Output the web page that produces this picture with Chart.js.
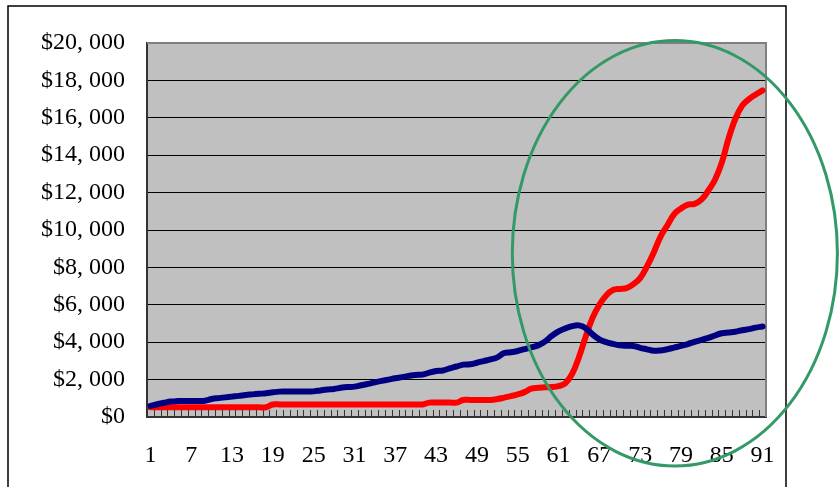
<!DOCTYPE html>
<html lang="en">
<head>
<meta charset="UTF-8">
<title>Chart</title>
<script src="https://cdn.jsdelivr.net/npm/chart.js"></script>
<style>
  html, body { margin: 0; padding: 0; background: #fff; }
  #wrap { width: 839px; height: 487px; }
</style>
</head>
<body>
<div id="wrap"><canvas id="chart" width="839" height="487"></canvas></div>
<script>
  // data
  const periods = Array.from({ length: 91 }, (_, i) => String(i + 1));

  const blueSeries = [
    590, 680, 760, 830, 850, 850, 855, 860, 870, 960,
    1010, 1050, 1090, 1130, 1180, 1210, 1240, 1270, 1320, 1357,
    1360, 1360, 1360, 1365, 1370, 1420, 1470, 1500, 1560, 1600,
    1625, 1700, 1770, 1860, 1930, 2000, 2070, 2130, 2200, 2250,
    2267, 2370, 2460, 2490, 2600, 2700, 2800, 2820, 2900, 2990,
    3080, 3190, 3420, 3460, 3530, 3630, 3720, 3830, 4030, 4340,
    4580, 4740, 4860, 4900, 4750, 4420, 4150, 4000, 3910, 3840,
    3810, 3800, 3700, 3620, 3540, 3560, 3620, 3710, 3800, 3900,
    4020, 4120, 4230, 4360, 4480, 4520, 4560, 4640, 4700, 4780,
    4840
  ];

  const redSeries = [
    520, 520, 520, 520, 520, 520, 520, 520, 520, 520,
    520, 520, 520, 520, 520, 520, 520, 520, 670, 670,
    670, 670, 670, 670, 670, 670, 670, 670, 670, 670,
    670, 670, 670, 670, 670, 670, 670, 670, 670, 670,
    670, 770, 770, 770, 770, 770, 910, 910, 910, 910,
    910, 960, 1035, 1120, 1214, 1330, 1520, 1560, 1590, 1600,
    1650, 1800, 2300, 3200, 4300, 5300, 6000, 6500, 6790, 6850,
    6890, 7100, 7430, 8050, 8800, 9650, 10250, 10850, 11150, 11360,
    11400, 11620, 12100, 12690, 13600, 14900, 15950, 16650, 17000, 17250,
    17470
  ];

  const yTicks = [0, 2000, 4000, 6000, 8000, 10000, 12000, 14000, 16000, 18000, 20000];
  const labelEvery = 6;

  // highlight ellipse, in axis units (category index / dollars)
  const ringLeftIdx = 53.2, ringRightIdx = 101.0;
  const ringTopVal = 20130, ringBottomVal = -2620;

  const serif = '"Liberation Serif", "DejaVu Serif", serif';

  function fmtDollar(v) {
    if (v === 0) return '$0';
    const s = String(v);
    return '$' + s.slice(0, s.length - 3) + ', ' + s.slice(-3);
  }

  const frame = {
    id: 'frame',
    beforeDraw(chart) {
      const { ctx, chartArea: a } = chart;
      ctx.save();
      ctx.fillStyle = '#fff';
      ctx.fillRect(0, 0, chart.width, chart.height);
      ctx.strokeStyle = '#000';
      ctx.lineWidth = 1.5;
      ctx.beginPath();
      ctx.moveTo(8, 500);
      ctx.lineTo(8, 6);
      ctx.lineTo(786, 6);
      ctx.lineTo(786, 500);
      ctx.stroke();
      ctx.fillStyle = '#c0c0c0';
      ctx.fillRect(a.left, a.top, a.right - a.left, a.bottom - a.top);
      ctx.restore();
    },
    beforeDatasetsDraw(chart) {
      // little inside tick marks on the category axis
      const { ctx, chartArea: a, scales: { x } } = chart;
      const half = (x.getPixelForValue(1) - x.getPixelForValue(0)) / 2;
      ctx.save();
      ctx.strokeStyle = '#333';
      ctx.lineWidth = 1;
      ctx.beginPath();
      for (let i = 0; i <= periods.length; i++) {
        const px = Math.round(x.getPixelForValue(i) - half) + 0.5;
        ctx.moveTo(px, a.bottom);
        ctx.lineTo(px, a.bottom - 7);
      }
      ctx.stroke();
      // gray top and right edges of the plot
      ctx.strokeStyle = '#808080';
      ctx.lineWidth = 2;
      ctx.beginPath();
      ctx.moveTo(a.left, a.top);
      ctx.lineTo(a.right, a.top);
      ctx.lineTo(a.right, a.bottom);
      ctx.stroke();
      ctx.restore();
    },
    afterDraw(chart) {
      const { ctx, scales: { x, y } } = chart;
      const l = x.getPixelForValue(ringLeftIdx), r = x.getPixelForValue(ringRightIdx);
      const t = y.getPixelForValue(ringTopVal), b = y.getPixelForValue(ringBottomVal);
      ctx.save();
      ctx.strokeStyle = '#339966';
      ctx.lineWidth = 3;
      ctx.beginPath();
      ctx.ellipse((l + r) / 2, (t + b) / 2, (r - l) / 2, (b - t) / 2, 0, 0, Math.PI * 2);
      ctx.stroke();
      ctx.restore();
    }
  };

  new Chart(document.getElementById('chart').getContext('2d'), {
    type: 'line',
    data: {
      labels: periods,
      datasets: [
        {
          label: 'Blue',
          data: blueSeries,
          borderColor: '#000080',
          borderWidth: 6,
          pointRadius: 0,
          tension: 0.4,
          borderCapStyle: 'round',
          borderJoinStyle: 'round'
        },
        {
          label: 'Red',
          data: redSeries,
          borderColor: '#ff0000',
          borderWidth: 6,
          pointRadius: 0,
          tension: 0.4,
          borderCapStyle: 'round',
          borderJoinStyle: 'round'
        }
      ]
    },
    options: {
      responsive: false,
      animation: false,
      layout: { padding: { left: 0, right: 73, top: 43, bottom: 0 } },
      plugins: { legend: { display: false }, tooltip: { enabled: false } },
      scales: {
        x: {
          offset: true,
          grid: { display: false, drawTicks: false },
          border: { display: true, color: '#333', width: 2 },
          ticks: {
            autoSkip: false,
            maxRotation: 0,
            padding: 24,
            color: '#000',
            font: { family: serif, size: 24 },
            callback: (v, i) => (i % labelEvery === 0 ? periods[i] : '')
          },
          afterFit: s => { s.height = 70; }
        },
        y: {
          min: 0,
          max: 20000,
          afterBuildTicks: s => { s.ticks = yTicks.map(v => ({ value: v })); },
          grid: {
            color: c => (c.tick.value === 20000 ? '#808080' : '#000'),
            lineWidth: 1,
            drawTicks: false
          },
          border: { display: true, color: '#333', width: 2 },
          ticks: {
            padding: 22,
            color: '#000',
            font: { family: serif, size: 24 },
            callback: v => fmtDollar(v)
          },
          afterFit: s => { s.width = 147; }
        }
      }
    },
    plugins: [frame]
  });
</script>
</body>
</html>
